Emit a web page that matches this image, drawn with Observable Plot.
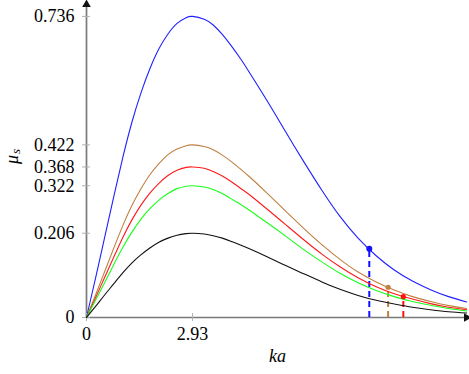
<!DOCTYPE html>
<html>
<head>
<meta charset="utf-8">
<script src="https://cdn.jsdelivr.net/npm/d3@7"></script>
<script src="https://cdn.jsdelivr.net/npm/@observablehq/plot@0.6"></script>
<style>
  html, body { margin: 0; padding: 0; background: white; }
</style>
</head>
<body>
<div id="chart"></div>
<script>
// ka grid (x values)
const ka = [0, 0.25, 0.5, 0.75, 1.0, 1.25, 1.5, 1.75, 2.0, 2.25, 2.5, 2.75, 2.93,
            3.25, 3.5, 3.75, 4.0, 4.25, 4.5, 5.0, 5.5, 6.0, 6.5, 7.0, 7.5, 8.0,
            8.5, 9.0, 9.5, 10.0, 10.5];

// mu_s series
const muBlue = [0, 0.096, 0.195, 0.294, 0.390, 0.476, 0.548, 0.608, 0.657, 0.693, 0.719, 0.733, 0.736,
                0.729, 0.715, 0.692, 0.664, 0.633, 0.599, 0.528, 0.454, 0.381, 0.311, 0.247, 0.194, 0.151,
                0.116, 0.089, 0.068, 0.051, 0.038];
const muBrown = [0, 0.055, 0.112, 0.169, 0.224, 0.273, 0.314, 0.349, 0.376, 0.398, 0.412, 0.420, 0.422,
                 0.418, 0.410, 0.397, 0.381, 0.363, 0.344, 0.303, 0.260, 0.218, 0.178, 0.142, 0.111, 0.087,
                 0.067, 0.051, 0.039, 0.029, 0.022];
const muRed = [0, 0.048, 0.098, 0.147, 0.195, 0.238, 0.274, 0.304, 0.328, 0.347, 0.360, 0.367, 0.368,
               0.365, 0.357, 0.346, 0.332, 0.316, 0.300, 0.264, 0.227, 0.190, 0.155, 0.124, 0.097, 0.075,
               0.058, 0.045, 0.034, 0.025, 0.019];
const muGreen = [0, 0.042, 0.085, 0.129, 0.171, 0.208, 0.240, 0.266, 0.287, 0.303, 0.315, 0.321, 0.322,
                 0.319, 0.313, 0.303, 0.290, 0.277, 0.262, 0.231, 0.199, 0.166, 0.136, 0.108, 0.085, 0.066,
                 0.051, 0.039, 0.030, 0.022, 0.016];
const muBlack = [0, 0.027, 0.055, 0.082, 0.109, 0.133, 0.153, 0.170, 0.184, 0.194, 0.201, 0.205, 0.206,
                 0.204, 0.200, 0.194, 0.186, 0.177, 0.168, 0.148, 0.127, 0.107, 0.087, 0.069, 0.054, 0.042,
                 0.033, 0.025, 0.019, 0.014, 0.011];

// marked points with dashed drop lines
const markX = [7.81, 8.33, 8.75];
const markY = [0.168, 0.074, 0.051];

// ticks
const xTicks = [0, 2.93];
const xTickLabels = ["0", "2.93"];
const yTicks = [0, 0.206, 0.322, 0.368, 0.422, 0.736];
const yTickLabels = ["0", "0.206", "0.322", "0.368", "0.422", "0.736"];

const series = [
  {y: muBlue, color: "#2020ff"},
  {y: muBrown, color: "#c08040"},
  {y: muRed, color: "#ff1a1a"},
  {y: muGreen, color: "#19ff19"},
  {y: muBlack, color: "#111111"}
];
const markColors = ["#1010ff", "#c08040", "#ff1010"];
const markR = [3, 2.6, 2.6];

const xMax = 10.55, yMax = 0.77;
const axisColor = "#7a7a7a";
const tickColor = "#b0b0b0";

const marks = [];

// axis lines
marks.push(Plot.ruleY([0], {x1: 0, x2: xMax, stroke: axisColor, strokeWidth: 1.7}));
marks.push(Plot.ruleX([0], {y1: 0, y2: yMax, stroke: axisColor, strokeWidth: 1.7}));

// tick marks crossing the axes
marks.push(Plot.ruleY(yTicks, {y: d => d, x1: -0.11, x2: 0.11, stroke: tickColor, strokeWidth: 1}));
marks.push(Plot.ruleX(xTicks, {x: d => d, y1: -0.0098, y2: 0.0098, stroke: tickColor, strokeWidth: 1}));

// tick labels
marks.push(Plot.axisY({ticks: yTicks, tickSize: 0, tickPadding: 12,
  tickFormat: d => yTickLabels[yTicks.indexOf(d)], label: null, fill: "#000"}));
marks.push(Plot.axisX({ticks: xTicks, tickSize: 0, tickPadding: 10,
  tickFormat: d => xTickLabels[xTicks.indexOf(d)], label: null, fill: "#000"}));

// dashed drop lines
markX.forEach((mx, i) => {
  marks.push(Plot.ruleX([mx], {x: d => d, y1: 0, y2: markY[i], stroke: markColors[i],
    strokeWidth: 2, strokeDasharray: "6,4"}));
});

// curves
series.forEach(s => {
  marks.push(Plot.line(ka, {x: ka, y: s.y, stroke: s.color, strokeWidth: 1.1, curve: "natural"}));
});

// markers
markX.forEach((mx, i) => {
  marks.push(Plot.dot([mx], {x: d => d, y: markY[i], r: markR[i], fill: markColors[i], stroke: "none"}));
});

// arrow heads
marks.push(Plot.dot([xMax], {x: d => d, y: 0, symbol: "triangle", rotate: 90, r: 3.2, fill: "#111", dx: -2}));
marks.push(Plot.dot([yMax], {x: 0, y: d => d, symbol: "triangle", rotate: 0, r: 3.2, fill: "#111", dy: 2}));

// axis titles
marks.push(Plot.text(["ka"], {frameAnchor: "bottom", dy: 44, fontStyle: "italic", fontSize: 18, fill: "#000"}));
marks.push(Plot.text(["μ"], {frameAnchor: "left", dx: -74, dy: 4, rotate: -90, fontStyle: "italic", fontSize: 18, fill: "#000"}));
marks.push(Plot.text(["s"], {frameAnchor: "left", dx: -71, dy: -6, rotate: -90, fontStyle: "italic", fontSize: 13, fill: "#000"}));

const chart = Plot.plot({
  width: 469,
  height: 374,
  marginLeft: 86,
  marginRight: 1,
  marginTop: 2,
  marginBottom: 57,
  x: {domain: [0, xMax], axis: null},
  y: {domain: [0, yMax], axis: null},
  style: {fontFamily: "'Liberation Serif', 'DejaVu Serif', serif", fontSize: "18px", background: "white", color: "#000"},
  marks
});
document.getElementById("chart").appendChild(chart);
</script>
</body>
</html>
